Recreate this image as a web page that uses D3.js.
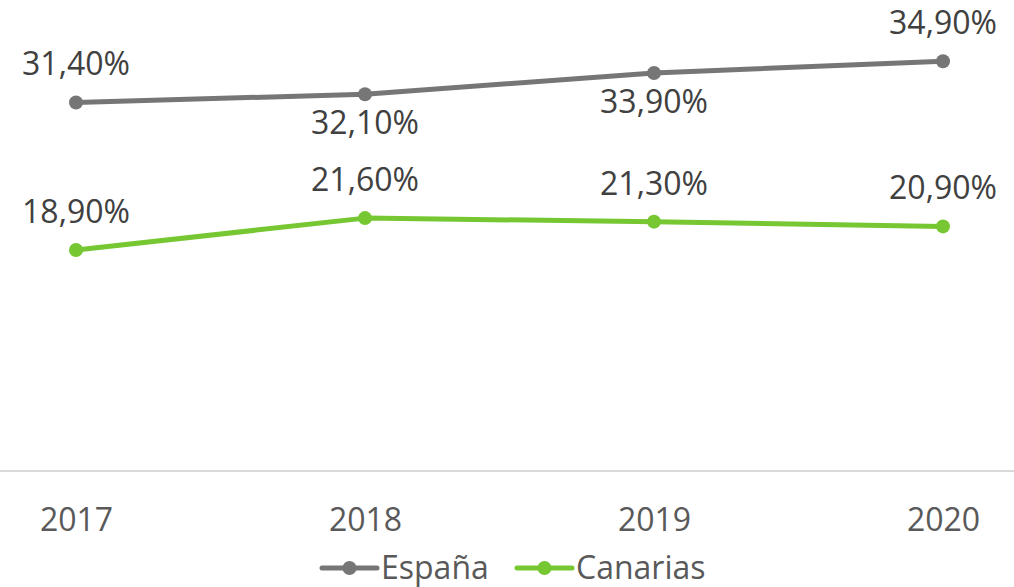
<!DOCTYPE html>
<html>
<head>
<meta charset="utf-8">
<script src="https://cdn.jsdelivr.net/npm/d3@7"></script>
<style>
  body { margin: 0; background: #fff; }
  text { font-family: "Open Sans", sans-serif; }
</style>
</head>
<body>
<div id="wrapper"></div>
<script>
const years = ["2017", "2018", "2019", "2020"];
const espana = [31.4, 32.1, 33.9, 34.9];
const canarias = [18.9, 21.6, 21.3, 20.9];
// label above (-1) or below (+1) the point
const espanaLabelSide = [-1, 1, 1, -1];
const canariasLabelSide = [-1, -1, -1, -1];

const series = [
    { name: "España", values: espana, side: espanaLabelSide, color: "#767676" },
    { name: "Canarias", values: canarias, side: canariasLabelSide, color: "#77c733" }
];

const dimension = { width: 1014, height: 587 };

const svg = d3.select("#wrapper").append("svg")
    .attr("width", dimension.width)
    .attr("height", dimension.height);

const xScaler = d3.scalePoint()
    .domain(years)
    .range([76, 943]);

const yScaler = d3.scaleLinear()
    .domain([0, 40])
    .range([473, 1]);

// baseline
svg.append("line")
    .attr("x1", 0).attr("x2", dimension.width)
    .attr("y1", 471).attr("y2", 471)
    .attr("stroke", "#d9d9d9").attr("stroke-width", 2);

const xAxis = d3.axisBottom(xScaler).tickSize(0).tickPadding(60);
const axisG = svg.append("g")
    .attr("transform", "translate(0, 471)")
    .call(xAxis);
axisG.select(".domain").remove();
axisG.selectAll("text")
    .style("font-family", "Open Sans")
    .attr("font-size", 32)
    .attr("fill", "#595959")
    .attr("dy", "0");

const lineGenerator = d3.line()
    .x((d, i) => xScaler(years[i]))
    .y(d => yScaler(d));

series.forEach(s => {
    svg.append("path")
        .datum(s.values)
        .attr("d", lineGenerator)
        .attr("fill", "none")
        .attr("stroke", s.color)
        .attr("stroke-width", 5)
        .attr("stroke-linejoin", "round");

    svg.selectAll(null)
        .data(s.values)
        .enter().append("circle")
        .attr("cx", (d, i) => xScaler(years[i]))
        .attr("cy", d => yScaler(d))
        .attr("r", 7)
        .attr("fill", s.color);

    svg.selectAll(null)
        .data(s.values)
        .enter().append("text")
        .attr("x", (d, i) => xScaler(years[i]))
        .attr("y", (d, i) => yScaler(d) + (s.side[i] < 0 ? -27 : 40))
        .attr("text-anchor", "middle")
        .attr("font-size", 32)
        .attr("fill", "#404040")
        .text(d => d3.format(".2f")(d).replace(".", ",") + "%");
});

// legend
const legendItems = [
    { name: "España", color: "#767676", x: 322 },
    { name: "Canarias", color: "#77c733", x: 517 }
];
const legend = svg.append("g").attr("transform", "translate(0, 568)");
legendItems.forEach(l => {
    legend.append("line")
        .attr("x1", l.x).attr("x2", l.x + 55)
        .attr("y1", 0).attr("y2", 0)
        .attr("stroke", l.color).attr("stroke-width", 5)
        .attr("stroke-linecap", "round");
    legend.append("circle")
        .attr("cx", l.x + 27.5).attr("cy", 0).attr("r", 7)
        .attr("fill", l.color);
    legend.append("text")
        .attr("x", l.x + 59).attr("y", 11)
        .attr("font-size", 32)
        .attr("fill", "#595959")
        .text(l.name);
});
</script>
</body>
</html>
